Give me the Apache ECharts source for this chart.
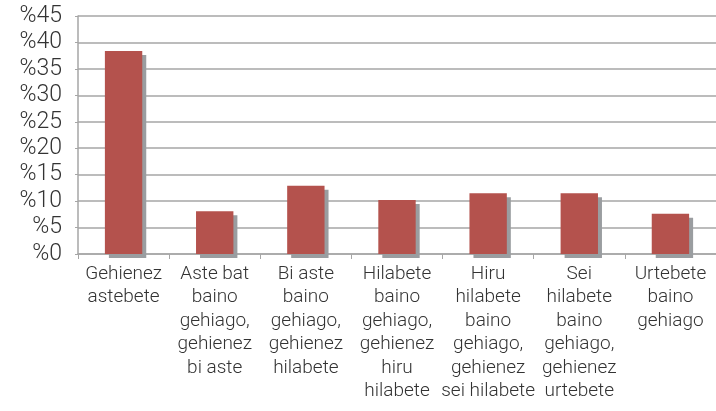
<!DOCTYPE html>
<html>
<head>
<meta charset="utf-8">
<script src="https://cdn.jsdelivr.net/npm/echarts@6/dist/echarts.min.js"></script>
<style>
  html, body { margin: 0; padding: 0; background: #fff; }
  #chart { width: 716px; height: 411px; }
</style>
</head>
<body>
<div id="chart"></div>
<script>
// categories (line breaks as in the picture)
var categories = [
    'Gehienez\nastebete',
    'Aste bat\nbaino\ngehiago,\ngehienez\nbi aste',
    'Bi aste\nbaino\ngehiago,\ngehienez\nhilabete',
    'Hilabete\nbaino\ngehiago,\ngehienez\nhiru\nhilabete',
    'Hiru\nhilabete\nbaino\ngehiago,\ngehienez\nsei hilabete',
    'Sei\nhilabete\nbaino\ngehiago,\ngehienez\nurtebete',
    'Urtebete\nbaino\ngehiago'
];
var values = [38.4, 8.1, 12.9, 10.2, 11.5, 11.5, 7.6];
var yTicks = [0, 5, 10, 15, 20, 25, 30, 35, 40, 45];

var font = 'Roboto, "Liberation Sans", sans-serif';
var gray = '#a6a6a6';

var opts = {
    animation: false,
    grid: { left: 78, right: -11, top: 16, bottom: 157 },
    xAxis: {
        type: 'category',
        data: categories,
        axisLine: { lineStyle: { color: gray, width: 1.5 } },
        axisTick: { show: true, length: 5, lineStyle: { color: gray } },
        axisLabel: {
            interval: 0,
            margin: 8,
            color: '#333',
            fontFamily: font,
            fontWeight: 300,
            fontSize: 19,
            lineHeight: 23.5,
            align: 'center'
        }
    },
    yAxis: {
        type: 'value',
        min: yTicks[0],
        max: yTicks[yTicks.length - 1],
        interval: 5,
        axisLine: { show: true, lineStyle: { color: gray, width: 1.5 } },
        axisTick: { show: true, length: 3, lineStyle: { color: gray } },
        splitLine: { lineStyle: { color: gray, width: 1.5 } },
        axisLabel: {
            margin: 16,
            color: '#333',
            fontFamily: font,
            fontWeight: 300,
            fontSize: 23,
            formatter: function (v) { return '%' + v; }
        }
    },
    series: [{
        type: 'bar',
        data: values,
        barWidth: '41%',
        itemStyle: {
            color: '#b4524d',
            shadowColor: '#9a9da0',
            shadowBlur: 0,
            shadowOffsetX: 4,
            shadowOffsetY: 4
        }
    }]
};

echarts.init(document.getElementById('chart')).setOption(opts);
</script>
</body>
</html>
